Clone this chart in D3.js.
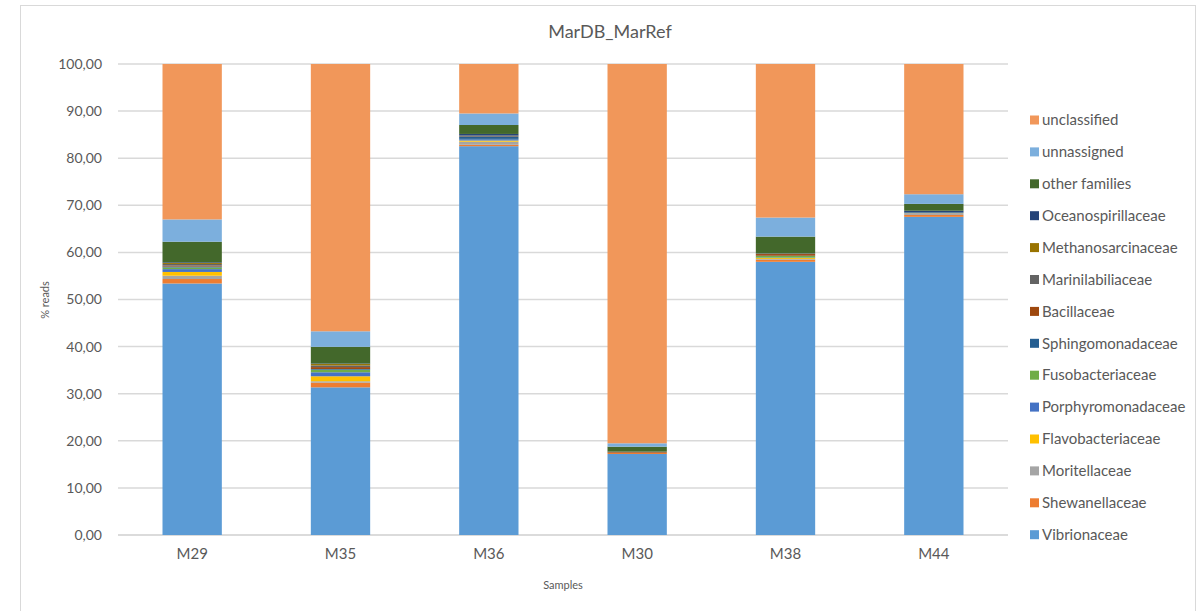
<!DOCTYPE html>
<html>
<head>
<meta charset="utf-8">
<script src="https://cdn.jsdelivr.net/npm/d3@7"></script>
<style>
  html, body { margin: 0; padding: 0; background: #fff; }
  svg { display: block; font-family: Lato, "Open Sans", sans-serif; }
</style>
</head>
<body>
<svg id="chart" width="1198" height="611"></svg>
<script>
// Samples along the x axis
const samples = ["M29", "M35", "M36", "M30", "M38", "M44"];

// Percentage of reads per family, one value per sample (stacked bottom to top)
const vibrionaceae       = [53.40, 31.35, 82.55, 17.20, 58.00, 67.55];
const shewanellaceae     = [0.95, 0.99, 0.30, 0.25, 0.45, 0.40];
const moritellaceae      = [0.70, 0.30, 0.65, 0.00, 0.15, 0.40];
const flavobacteriaceae  = [0.80, 1.06, 0.25, 0.00, 0.20, 0.05];
const porphyromonadaceae = [0.60, 0.85, 0.30, 0.00, 0.10, 0.00];
const fusobacteriaceae   = [0.35, 0.55, 0.05, 0.00, 0.35, 0.00];
const sphingomonadaceae  = [0.20, 0.15, 0.40, 0.00, 0.05, 0.15];
const bacillaceae        = [0.20, 0.40, 0.05, 0.15, 0.35, 0.00];
const marinilabiliaceae  = [0.35, 0.35, 0.20, 0.10, 0.15, 0.00];
const methanosarcinaceae = [0.20, 0.30, 0.05, 0.00, 0.00, 0.00];
const oceanospirillaceae = [0.15, 0.10, 0.35, 0.00, 0.00, 0.30];
const otherFamilies      = [4.37, 3.55, 1.90, 1.05, 3.55, 1.45];
const unnassigned        = [4.73, 3.30, 2.45, 0.72, 4.05, 2.05];
const unclassified       = [33.00, 56.75, 10.50, 80.53, 32.60, 27.65];

// Series names and colours, in stacking order
const seriesNames = ["Vibrionaceae", "Shewanellaceae", "Moritellaceae", "Flavobacteriaceae",
  "Porphyromonadaceae", "Fusobacteriaceae", "Sphingomonadaceae", "Bacillaceae",
  "Marinilabiliaceae", "Methanosarcinaceae", "Oceanospirillaceae", "other families",
  "unnassigned", "unclassified"];
const seriesValues = [vibrionaceae, shewanellaceae, moritellaceae, flavobacteriaceae,
  porphyromonadaceae, fusobacteriaceae, sphingomonadaceae, bacillaceae,
  marinilabiliaceae, methanosarcinaceae, oceanospirillaceae, otherFamilies,
  unnassigned, unclassified];
const seriesColors = ["#5B9BD5", "#ED7D31", "#A5A5A5", "#FFC000", "#4472C4", "#70AD47",
  "#255E91", "#9E480E", "#636363", "#997300", "#264478", "#43682B", "#7CAFDD", "#F1975A"];

const yTicks = [0, 10, 20, 30, 40, 50, 60, 70, 80, 90, 100];

// Build a row per sample for d3.stack
const rows = samples.map((s, i) => {
  const r = { sample: s };
  seriesNames.forEach((n, k) => { r[n] = seriesValues[k][i]; });
  return r;
});

const svg = d3.select("#chart");
const textColor = "#595959";
const gridColor = "#D9D9D9";

// Chart frame
svg.append("rect")
  .attr("x", 20.5).attr("y", 5.5)
  .attr("width", 1175).attr("height", 620)
  .attr("fill", "#fff").attr("stroke", gridColor).attr("stroke-width", 1);

const x = d3.scaleBand().domain(samples).range([118, 1008])
  .paddingInner(0.6).paddingOuter(0.3);
const y = d3.scaleLinear().domain([0, 100]).range([535, 64]);

// Horizontal gridlines
svg.append("g").selectAll("line").data(yTicks).join("line")
  .attr("x1", 118).attr("x2", 1008)
  .attr("y1", d => y(d)).attr("y2", d => y(d))
  .attr("stroke", gridColor).attr("stroke-width", 1.5);

// Y axis labels
const yAxis = d3.axisLeft(y).tickValues(yTicks)
  .tickFormat(d => d3.format(".2f")(d).replace(".", ","))
  .tickSize(0).tickPadding(16);
const gy = svg.append("g").attr("transform", "translate(118,0)").call(yAxis);
gy.select(".domain").remove();
gy.selectAll("text").attr("fill", textColor).style("font-size", "14px")
  .style("font-family", "Lato, sans-serif");

// X axis labels
const xAxis = d3.axisBottom(x).tickSize(0).tickPadding(13);
const gx = svg.append("g").attr("transform", "translate(0,535)").call(xAxis);
gx.select(".domain").attr("stroke", gridColor).attr("stroke-width", 1.5)
  .attr("d", "M118,0H1008");
gx.selectAll("text").attr("fill", textColor).style("font-size", "15px")
  .style("font-family", "Lato, sans-serif");

// Stacked bars
const stacked = d3.stack().keys(seriesNames)(rows);
svg.append("g").selectAll("g").data(stacked).join("g")
  .attr("fill", (d, i) => seriesColors[i])
  .selectAll("rect").data(d => d).join("rect")
  .attr("x", d => x(d.data.sample))
  .attr("width", x.bandwidth())
  .attr("y", d => y(d[1]))
  .attr("height", d => y(d[0]) - y(d[1]));

// Title
svg.append("text").attr("x", 610).attr("y", 38).attr("text-anchor", "middle")
  .attr("fill", textColor).style("font-size", "18px").text("MarDB_MarRef");

// Axis titles
svg.append("text").attr("transform", "translate(49,300) rotate(-90)")
  .attr("text-anchor", "middle").attr("fill", textColor).style("font-size", "11px")
  .text("% reads");
svg.append("text").attr("x", 563).attr("y", 589).attr("text-anchor", "middle")
  .attr("fill", textColor).style("font-size", "11px").text("Samples");

// Legend, top entry is the last stacked series
const legendItems = seriesNames.map((n, i) => ({ name: n, color: seriesColors[i] })).reverse();
const legend = svg.append("g").selectAll("g").data(legendItems).join("g")
  .attr("transform", (d, i) => `translate(1030,${120 + i * 31.9})`);
legend.append("rect").attr("x", 0).attr("y", -4.5).attr("width", 9).attr("height", 9)
  .attr("fill", d => d.color);
legend.append("text").attr("x", 12).attr("y", 0).attr("dy", "0.35em")
  .attr("fill", textColor).style("font-size", "15px").text(d => d.name);
</script>
</body>
</html>
